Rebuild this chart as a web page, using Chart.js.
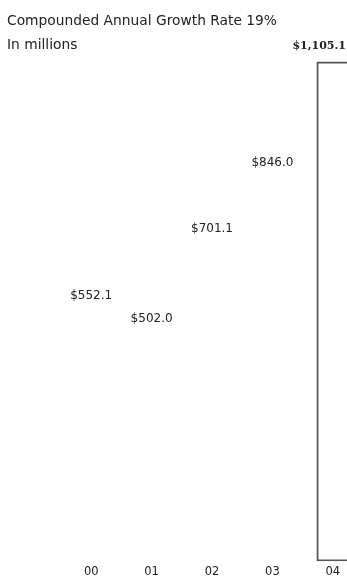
<!DOCTYPE html>
<html>
<head>
<meta charset="utf-8">
<script src="https://cdn.jsdelivr.net/npm/chart.js@4"></script>
<style>
  html, body { margin: 0; padding: 0; background: #fff; overflow: hidden; }
  #wrap { position: relative; width: 347px; height: 580px; overflow: hidden; }
  #myChart { position: absolute; left: 0; top: 0; }
  .hd { position: absolute; left: 7px; font-family: "DejaVu Sans", sans-serif; font-size: 13.8px; color: #222; white-space: nowrap; }
</style>
</head>
<body>
<div id="wrap">
  <canvas id="myChart" width="380" height="577"></canvas>
  <div class="hd" style="top:12px">Compounded Annual Growth Rate 19%</div>
  <div class="hd" style="top:36px">In millions</div>
</div>
<script>
// fiscal years and revenue (in millions)
var years = ['00', '01', '02', '03', '04'];
var revenue = [552.1, 502.0, 701.1, 846.0, 1105.1];
var valueLabels = ['$552.1', '$502.0', '$701.1', '$846.0', '$1,105.1'];

var lastIdx = revenue.length - 1;

// draws the dollar figure above each bar
var valueLabelPlugin = {
    id: 'valueLabels',
    afterDatasetsDraw: function (chart) {
        var ctx = chart.ctx;
        var meta = chart.getDatasetMeta(0);
        ctx.save();
        ctx.textBaseline = 'middle';
        ctx.fillStyle = '#222';
        meta.data.forEach(function (bar, i) {
            var text = valueLabels[i];
            ctx.font = i == lastIdx ? 'bold 11px "DejaVu Serif", serif' : '12px "DejaVu Sans", sans-serif';
            var w = ctx.measureText(text).width;
            var x = bar.x;
            // keep the last one inside the visible window
            if (x + w / 2 > 346) x = 346 - w / 2;
            ctx.textAlign = 'center';
            ctx.fillText(text, x, bar.y - 16);
        });
        ctx.restore();
    }
};

var ctx = document.getElementById('myChart');
var myChart = new Chart(ctx, {
    type: 'bar',
    data: {
        labels: years,
        datasets: [{
            label: 'Revenue',
            data: revenue,
            backgroundColor: 'rgba(255,255,255,0)',
            borderColor: revenue.map(function (v, i) { return i == lastIdx ? '#555' : 'rgba(0,0,0,0)'; }),
            borderWidth: revenue.map(function (v, i) { return i == lastIdx ? 1.3 : 0; }),
            borderSkipped: false,
            barThickness: 32
        }]
    },
    plugins: [valueLabelPlugin],
    options: {
        responsive: false,
        animation: false,
        layout: {
            padding: { left: 61, right: 17, top: 19, bottom: 2 }
        },
        plugins: {
            legend: { display: false },
            tooltip: { enabled: false }
        },
        scales: {
            x: {
                grid: { display: false },
                border: { display: false },
                ticks: {
                    color: '#222',
                    padding: -4,
                    font: { family: '"DejaVu Sans", sans-serif', size: 11.5 }
                }
            },
            y: {
                display: false,
                min: 0,
                max: 1200
            }
        }
    }
});
</script>
</body>
</html>
